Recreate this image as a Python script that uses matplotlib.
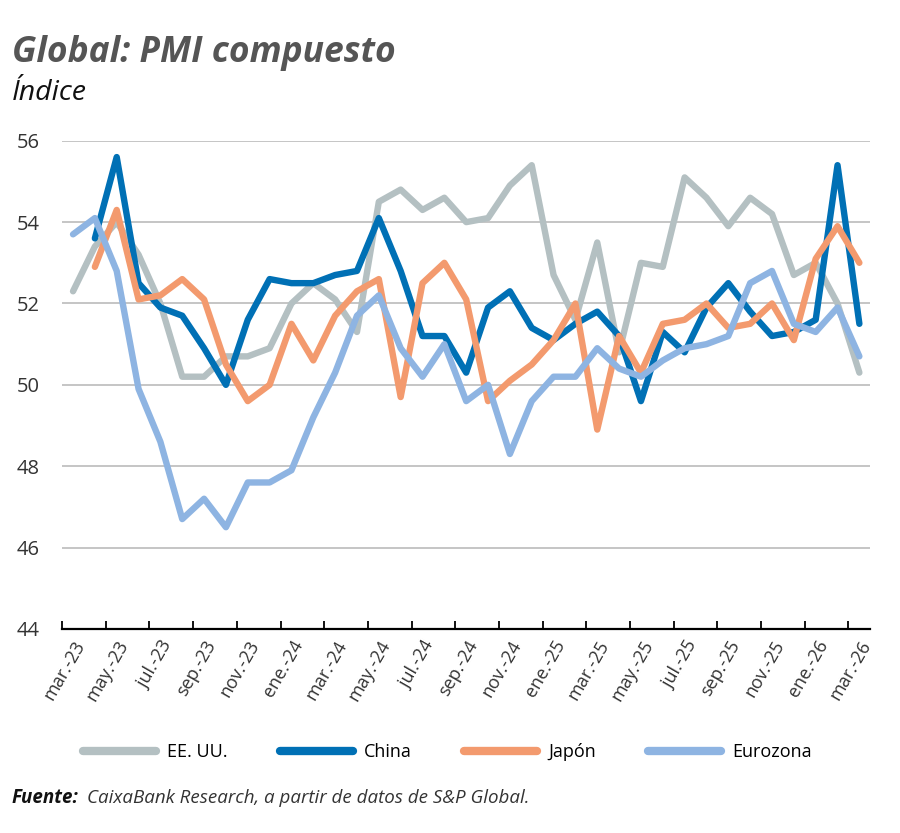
import numpy as np
import matplotlib.pyplot as plt

plt.rcParams['font.family'] = ['Open Sans', 'DejaVu Sans']

months = ["mar.-23", "abr.-23", "may.-23", "jun.-23", "jul.-23", "ago.-23", "sep.-23", "oct.-23",
          "nov.-23", "dic.-23", "ene.-24", "feb.-24", "mar.-24", "abr.-24", "may.-24", "jun.-24",
          "jul.-24", "ago.-24", "sep.-24", "oct.-24", "nov.-24", "dic.-24", "ene.-25", "feb.-25",
          "mar.-25", "abr.-25", "may.-25", "jun.-25", "jul.-25", "ago.-25", "sep.-25", "oct.-25",
          "nov.-25", "dic.-25", "ene.-26", "feb.-26", "mar.-26"]

usa = [52.3, 53.4, 54.0, 53.2, 52.0, 50.2, 50.2, 50.7, 50.7, 50.9, 52.0, 52.5, 52.1, 51.3,
       54.5, 54.8, 54.3, 54.6, 54.0, 54.1, 54.9, 55.4, 52.7, 51.6, 53.5, 50.8, 53.0, 52.9,
       55.1, 54.6, 53.9, 54.6, 54.2, 52.7, 53.0, 52.0, 50.3]
china = [np.nan, 53.6, 55.6, 52.5, 51.9, 51.7, 50.9, 50.0, 51.6, 52.6, 52.5, 52.5, 52.7, 52.8,
         54.1, 52.8, 51.2, 51.2, 50.3, 51.9, 52.3, 51.4, 51.1, 51.5, 51.8, 51.2, 49.6, 51.3,
         50.8, 51.9, 52.5, 51.8, 51.2, 51.3, 51.6, 55.4, 51.5]
japan = [np.nan, 52.9, 54.3, 52.1, 52.2, 52.6, 52.1, 50.5, 49.6, 50.0, 51.5, 50.6, 51.7, 52.3,
         52.6, 49.7, 52.5, 53.0, 52.1, 49.6, 50.1, 50.5, 51.1, 52.0, 48.9, 51.2, 50.3, 51.5,
         51.6, 52.0, 51.4, 51.5, 52.0, 51.1, 53.1, 53.9, 53.0]
euro = [53.7, 54.1, 52.8, 49.9, 48.6, 46.7, 47.2, 46.5, 47.6, 47.6, 47.9, 49.2, 50.3, 51.7,
        52.2, 50.9, 50.2, 51.0, 49.6, 50.0, 48.3, 49.6, 50.2, 50.2, 50.9, 50.4, 50.2, 50.6,
        50.9, 51.0, 51.2, 52.5, 52.8, 51.5, 51.3, 51.9, 50.7]

series = ["EE. UU.", "China", "Japón", "Eurozona"]
colors = ["#b4c0c2", "#0070b5", "#f39a6e", "#8eb4e2"]

fig = plt.figure(figsize=(9, 8.33), dpi=100)
ax = fig.add_axes([0.069, 0.245, 0.898, 0.586])

x = np.arange(len(months))
for i, (name, vals) in enumerate(zip(series, [usa, china, japan, euro])):
    ax.plot(x, vals, color=colors[i], lw=4.6, label=name, zorder=3 + i,
            solid_joinstyle='round', solid_capstyle='round')

ax.set_xlim(-0.5, len(months) - 0.5)
ax.set_ylim(44, 56)
ax.set_yticks(np.arange(44, 57, 2))
ax.yaxis.grid(True, color="#b5b5b5", lw=1.1)
ax.set_axisbelow(True)
for s in ["left", "right", "top"]:
    ax.spines[s].set_visible(False)
ax.spines["bottom"].set_linewidth(1.6)
ax.spines["bottom"].set_zorder(10)
ax.tick_params(axis="y", length=0, pad=16, labelsize=14.5, labelcolor="#333333")

# ticks at category boundaries, labels at every second month
ax.set_xticks(np.arange(-0.5, len(months) - 1, 2))
ax.set_xticklabels([])
ax.tick_params(axis="x", which="major", direction="in", length=6, width=1.3)
ax.set_xticks(x[::2], minor=True)
ax.set_xticklabels(months[::2], minor=True, rotation=60, ha="right", rotation_mode="anchor",
                   fontsize=13, color="#333333")
ax.tick_params(axis="x", which="minor", length=0, pad=6)

fig.text(0.013, 0.926, "Global: PMI compuesto", fontsize=25.5, fontweight="bold", style="italic",
         color="#555555", va="baseline")
fig.text(0.013, 0.88, "Índice", fontsize=20.5, style="italic", color="#111111", va="baseline")

leg = fig.legend(loc="center", bbox_to_anchor=(0.497, 0.097), ncol=4, frameon=False,
                 fontsize=13, handlelength=4.05, columnspacing=2.9, handletextpad=0.6)
for line in leg.get_lines():
    line.set_linewidth(6)
    line.set_solid_capstyle("round")

fig.text(0.013, 0.036, "Fuente:", fontsize=13.5, fontweight="bold", style="italic",
         color="#111111", va="baseline")
fig.text(0.097, 0.036, "CaixaBank Research, a partir de datos de S&P Global.", fontsize=13.5,
         style="italic", color="#333333", va="baseline")

fig.savefig("out.png", dpi=100)
